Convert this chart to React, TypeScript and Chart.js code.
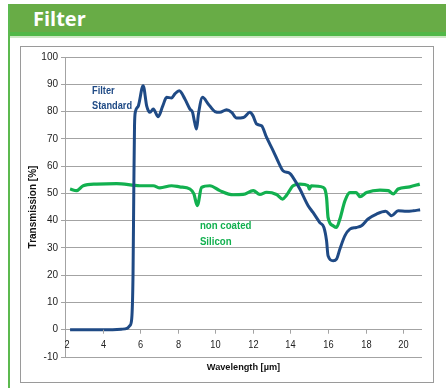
import React, { useEffect, useRef } from 'react';
import { Chart, registerables } from 'chart.js';

Chart.register(...registerables);

const chartTitle = 'Filter';
const xAxisTitle = 'Wavelength [µm]';
const yAxisTitle = 'Transmission [%]';

const xTickValues = [2, 4, 6, 8, 10, 12, 14, 16, 18, 20];
const xTickLabels = ['2', '4', '6', '8', '10', '12', '14', '16', '18', '20'];

const filterLabel = ['Filter', 'Standard'];
const siliconLabel = ['non coated', 'Silicon'];

const filterX = [2.27, 3.0, 4.0, 5.0, 5.3, 5.45, 5.55, 5.62, 5.66, 5.7, 5.75, 5.9, 6.16, 6.35, 6.52, 6.7, 6.96, 7.2, 7.41, 7.67, 7.85, 8.08, 8.38, 8.65, 8.79, 8.9, 9.0, 9.1, 9.32, 9.62, 9.98, 10.24, 10.6, 10.87, 11.13, 11.5, 11.84, 12.0, 12.2, 12.46, 12.73, 13.08, 13.4, 13.6, 13.97, 14.14, 14.5, 14.94, 15.2, 15.56, 15.78, 15.92, 16.0, 16.27, 16.45, 16.63, 16.9, 17.16, 17.5, 17.78, 18.13, 18.58, 19.07, 19.38, 19.73, 20.18, 20.53, 20.9];
const filterY = [0, 0, 0, 0.2, 0.5, 1.5, 4, 20, 50, 75, 80, 82, 89.5, 82, 79.7, 80.9, 78.1, 82, 85.2, 85, 86.5, 87.6, 84.6, 80.9, 79.7, 76, 73.6, 79, 85.2, 82.8, 80, 79.7, 80.7, 79.7, 77.6, 77.8, 79.7, 78.5, 75.4, 74.8, 70.5, 65.6, 60.8, 58.3, 57.3, 55.8, 51.6, 45.5, 43, 39.3, 37.5, 32.6, 27.1, 25.3, 25.9, 29.6, 34.5, 36.9, 37.5, 38.1, 40.6, 42.4, 43.4, 41.8, 43.6, 43.4, 43.6, 44];

const siliconX = [2.27, 2.62, 2.97, 3.69, 4.75, 5.99, 6.7, 7.05, 7.67, 8.1, 8.65, 8.86, 9.04, 9.27, 9.71, 10.24, 10.95, 11.48, 12.02, 12.37, 12.73, 13.26, 13.58, 13.79, 14.14, 14.5, 14.94, 15.0, 15.1, 15.74, 15.92, 16.0, 16.27, 16.45, 16.63, 16.9, 17.16, 17.5, 17.7, 18.05, 18.76, 19.2, 19.47, 19.73, 20.35, 20.88];
const siliconY = [51.6, 51, 52.8, 53.4, 53.6, 52.8, 52.8, 52, 52.8, 52.4, 51.6, 49.8, 45.5, 52.2, 52.8, 51, 49.5, 49.6, 51, 49.6, 50.4, 49.6, 47.9, 49.3, 52.8, 53.4, 52.8, 51.5, 52.8, 52.2, 48.5, 41.2, 38.1, 37.5, 40.6, 47.3, 50.3, 50.3, 48.8, 50.3, 51.2, 51, 49.8, 51.6, 52.4, 53.4];

const BLUE = '#1f4a85';
const GREEN = '#12b04f';
const GRID = '#a3a3a3';
const SANS = '"Liberation Sans", Arial, sans-serif';

function narrowText(ctx: any, text: string, x: number, y: number, align: string) {
  const sx = 0.84;
  ctx.save();
  ctx.translate(x, y);
  ctx.scale(sx, 1);
  ctx.textAlign = align;
  ctx.fillText(text, 0, 0);
  ctx.restore();
}

const overlayPlugin = {
  id: 'overlay',
  afterDraw(chart: any) {
    const { ctx } = chart;
    const xs = chart.scales.x;
    const ys = chart.scales.y;
    const y0 = ys.getPixelForValue(0);
    ctx.save();
    ctx.strokeStyle = GRID;
    ctx.lineWidth = 1;
    ctx.fillStyle = '#222';
    ctx.font = '11px ' + SANS;
    ctx.textBaseline = 'middle';
    xTickValues.forEach((v, i) => {
      const px = Math.round(xs.getPixelForValue(v)) + 0.5;
      ctx.beginPath();
      ctx.moveTo(px, y0);
      ctx.lineTo(px, y0 + 4);
      ctx.stroke();
      narrowText(ctx, xTickLabels[i], px + (i === 0 ? 1.5 : 0), y0 + 15, 'center');
    });
    ctx.fillStyle = BLUE;
    ctx.font = 'bold 11px ' + SANS;
    narrowText(ctx, filterLabel[0], xs.getPixelForValue(3.44), ys.getPixelForValue(87.4), 'left');
    narrowText(ctx, filterLabel[1], xs.getPixelForValue(3.44), ys.getPixelForValue(81.9), 'left');
    ctx.fillStyle = GREEN;
    ctx.font = 'bold 11.5px ' + SANS;
    narrowText(ctx, siliconLabel[0], xs.getPixelForValue(9.18), ys.getPixelForValue(38), 'left');
    narrowText(ctx, siliconLabel[1], xs.getPixelForValue(9.18), ys.getPixelForValue(32.4), 'left');
    ctx.restore();
  },
};

export default function App() {
  const ref = useRef<HTMLCanvasElement | null>(null);
  useEffect(() => {
    document.body.style.margin = '0';
    const canvas = ref.current;
    if (!canvas) return;
    const chart = new Chart(canvas, {
      type: 'line',
      data: {
        datasets: [
          {
            label: 'Filter Standard',
            data: filterX.map((x, i) => ({ x, y: filterY[i] })),
            borderColor: BLUE,
            borderWidth: 3,
            pointRadius: 0,
            cubicInterpolationMode: 'monotone',
            fill: false,
          },
          {
            label: 'non coated Silicon',
            data: siliconX.map((x, i) => ({ x, y: siliconY[i] })),
            borderColor: GREEN,
            borderWidth: 3.2,
            pointRadius: 0,
            cubicInterpolationMode: 'monotone',
            fill: false,
          },
        ],
      },
      options: {
        responsive: false,
        animation: false,
        events: [],
        layout: { padding: { left: 20, top: 57, right: 24, bottom: 15 } },
        plugins: { legend: { display: false }, tooltip: { enabled: false } },
        scales: {
          x: {
            type: 'linear',
            min: 2,
            max: 21,
            grid: { display: false },
            border: { display: false },
            ticks: { display: false },
            title: {
              display: true,
              text: xAxisTitle,
              color: '#111',
              font: { family: SANS, size: 9.2, weight: 'bold', lineHeight: 1.3 },
              padding: { top: 0, bottom: 0 },
            },
            afterFit(scale: any) {
              scale.height = 16;
            },
          },
          y: {
            type: 'linear',
            min: -10,
            max: 100,
            ticks: {
              stepSize: 10,
              color: '#222',
              padding: 3,
              font: { family: SANS, size: 10 },
            },
            grid: { color: GRID, lineWidth: 1, tickLength: 4, tickColor: GRID },
            border: { display: true, color: GRID },
            title: {
              display: true,
              text: yAxisTitle,
              color: '#111',
              font: { family: SANS, size: 10, weight: 'bold', lineHeight: 1.2 },
              padding: { top: 7.5, bottom: 0 },
            },
            afterFit(scale: any) {
              scale.width = 45;
            },
          },
        },
      },
      plugins: [overlayPlugin],
    } as any);
    return () => chart.destroy();
  }, []);

  return (
    <div style={{ position: 'relative', width: 446, height: 388, background: '#fff', overflow: 'hidden' }}>
      <div style={{ position: 'absolute', left: 8, top: 4, width: 438, height: 28, background: '#68ac46' }} />
      <div style={{ position: 'absolute', left: 8, top: 32, width: 438, height: 4, background: '#52b848' }} />
      <div style={{ position: 'absolute', left: 8, top: 36, width: 438, height: 2, background: '#cfe8c6' }} />
      <div style={{ position: 'absolute', left: 8, top: 4, width: 2, height: 384, background: '#5cb94f' }} />
      <div
        style={{
          position: 'absolute',
          left: 33,
          top: 5,
          height: 28,
          lineHeight: '28px',
          color: '#fff',
          fontFamily: '"Open Sans", sans-serif',
          fontWeight: 700,
          fontSize: 20,
        }}
      >
        {chartTitle}
      </div>
      <div
        style={{
          position: 'absolute',
          left: 20,
          top: 46,
          width: 412,
          height: 335,
          border: '1px solid #9a9a9a',
          boxSizing: 'content-box',
        }}
      />
      <canvas ref={ref} width={446} height={388} style={{ position: 'absolute', left: 0, top: 0, width: 446, height: 388 }} />
    </div>
  );
}
